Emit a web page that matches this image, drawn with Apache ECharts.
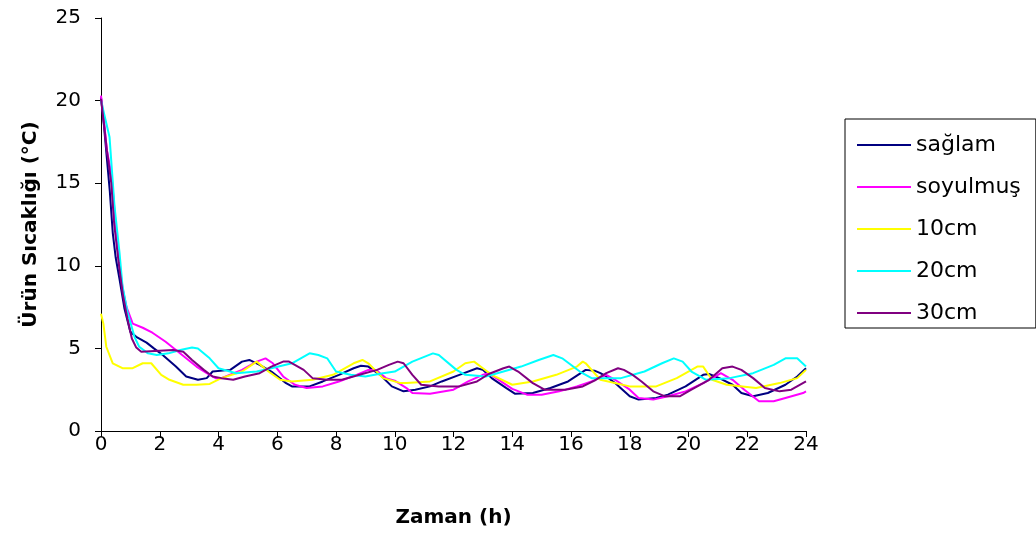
<!DOCTYPE html>
<html><head><meta charset="utf-8">
<script src="https://cdn.jsdelivr.net/npm/echarts@6/dist/echarts.min.js"></script>
<style>html,body{margin:0;padding:0;background:#fff}#c{width:1036px;height:536px}</style>
</head><body><div id="c"></div>
<script>
const seriesNames = ['sağlam','soyulmuş','10cm','20cm','30cm'];
const seriesColors = ['#000080','#FF00FF','#FFFF00','#00FFFF','#800080'];
const xTicks = {min:0, max:24, interval:2};
const yTicks = {min:0, max:25, interval:5};

const saglam = [[0,20.2],[0.1,18.5],[0.2,16.5],[0.3,14.5],[0.4,12.0],[0.5,10.5],[0.63,9.2],[0.8,7.4],[1.0,6.0],[1.2,5.7],[1.55,5.35],[1.8,5.0],[2.1,4.6],[2.55,3.9],[2.9,3.3],[3.3,3.1],[3.6,3.2],[3.8,3.6],[4.4,3.7],[4.8,4.2],[5.05,4.3],[5.4,4.0],[5.8,3.6],[6.3,2.9],[6.5,2.7],[7.1,2.7],[7.55,3.0],[8.1,3.4],[8.6,3.8],[8.85,3.95],[9.1,3.9],[9.5,3.4],[9.9,2.7],[10.3,2.4],[10.7,2.5],[11.2,2.7],[11.6,3.0],[12.2,3.4],[12.8,3.8],[13.0,3.7],[13.3,3.2],[13.8,2.6],[14.1,2.25],[14.7,2.3],[15.3,2.6],[15.9,3.0],[16.5,3.7],[16.8,3.65],[17.0,3.5],[17.2,3.3],[17.5,2.9],[18.0,2.1],[18.3,1.9],[18.9,2.0],[19.3,2.2],[19.9,2.7],[20.5,3.4],[20.7,3.45],[21.05,3.2],[21.5,2.8],[21.8,2.3],[22.2,2.1],[22.7,2.3],[23.3,2.8],[23.7,3.3],[24,3.8]];
const soyulmus = [[0,20.3],[0.1,18.8],[0.2,17.0],[0.36,15.5],[0.5,12.5],[0.63,10.0],[0.75,8.5],[0.87,7.5],[1.08,6.5],[1.42,6.25],[1.75,5.95],[2.2,5.4],[2.55,4.9],[2.9,4.4],[3.25,3.9],[3.6,3.5],[3.9,3.2],[4.1,3.2],[4.8,3.7],[5.3,4.2],[5.6,4.4],[5.85,4.1],[6.2,3.3],[6.6,2.8],[7.0,2.6],[7.55,2.7],[8.1,3.0],[8.7,3.4],[9.1,3.7],[9.35,3.7],[9.7,3.2],[10.0,3.05],[10.4,2.6],[10.6,2.3],[11.2,2.25],[12.0,2.5],[12.5,3.0],[13.0,3.4],[13.2,3.5],[13.45,3.2],[14.0,2.55],[14.5,2.2],[15.0,2.2],[15.6,2.4],[16.2,2.7],[16.7,3.0],[17.2,3.4],[17.5,3.1],[18.0,2.5],[18.3,2.0],[18.8,1.9],[19.3,2.1],[19.9,2.4],[20.5,2.9],[21.0,3.4],[21.1,3.5],[21.5,3.1],[21.9,2.5],[22.4,1.8],[22.9,1.8],[23.3,2.0],[23.9,2.3],[24,2.4]];
const cm10 = [[0,7.1],[0.08,6.5],[0.18,5.1],[0.4,4.1],[0.73,3.8],[1.08,3.8],[1.42,4.1],[1.71,4.1],[2.05,3.4],[2.33,3.1],[2.8,2.8],[3.25,2.8],[3.7,2.85],[4.1,3.2],[4.8,3.6],[5.3,4.2],[5.7,3.6],[6.1,3.1],[6.5,3.0],[7.2,3.1],[7.9,3.4],[8.6,4.1],[8.9,4.3],[9.1,4.1],[9.6,3.2],[10.2,2.9],[10.4,2.9],[11.2,3.0],[12.0,3.6],[12.4,4.1],[12.7,4.2],[13.0,3.8],[13.3,3.4],[14.0,2.8],[14.7,3.0],[15.5,3.4],[16.2,3.9],[16.4,4.2],[16.5,4.1],[17.0,3.1],[18.0,2.7],[18.9,2.7],[19.6,3.2],[20.3,3.9],[20.5,3.9],[20.8,3.1],[21.3,2.8],[22.3,2.6],[23.1,2.9],[23.7,3.2],[24,3.7]];
const cm20 = [[0,20.0],[0.05,19.9],[0.29,17.8],[0.46,13.6],[0.63,10.8],[0.73,8.8],[0.9,7.2],[1.14,5.7],[1.3,5.1],[1.6,4.7],[1.9,4.6],[2.3,4.7],[2.7,4.9],[3.1,5.05],[3.3,5.0],[3.7,4.4],[4.0,3.8],[4.6,3.5],[5.3,3.6],[5.8,3.8],[6.5,4.1],[7.1,4.7],[7.4,4.6],[7.7,4.4],[8.0,3.6],[8.5,3.4],[9.0,3.3],[9.6,3.5],[10.0,3.6],[10.6,4.2],[11.3,4.7],[11.5,4.6],[12.1,3.7],[12.4,3.4],[13.1,3.3],[13.7,3.6],[14.3,3.9],[14.9,4.3],[15.4,4.6],[15.7,4.4],[16.3,3.6],[16.7,3.2],[17.7,3.2],[18.5,3.6],[19.1,4.1],[19.5,4.4],[19.8,4.2],[20.1,3.6],[20.6,3.1],[21.4,3.2],[22.2,3.5],[22.9,4.0],[23.3,4.4],[23.7,4.4],[24,3.9]];
const cm30 = [[0,20.1],[0.1,18.6],[0.2,17.0],[0.35,15.0],[0.45,12.5],[0.6,10.2],[0.75,8.2],[0.9,6.8],[1.05,5.6],[1.2,5.05],[1.37,4.8],[2.45,4.9],[2.8,4.8],[3.1,4.3],[3.5,3.7],[3.8,3.3],[4.1,3.2],[4.5,3.1],[4.9,3.3],[5.4,3.5],[5.8,3.9],[6.2,4.2],[6.4,4.2],[6.9,3.7],[7.2,3.2],[7.7,3.1],[8.2,3.1],[8.8,3.4],[9.4,3.7],[9.8,4.0],[10.1,4.2],[10.3,4.1],[10.6,3.4],[10.9,2.8],[11.5,2.7],[12.2,2.7],[12.8,3.0],[13.2,3.45],[13.7,3.8],[13.9,3.9],[14.2,3.6],[14.7,2.9],[15.1,2.5],[15.8,2.5],[16.4,2.7],[16.8,3.05],[17.2,3.5],[17.6,3.8],[17.8,3.7],[18.1,3.4],[18.4,3.0],[18.8,2.4],[19.2,2.1],[19.7,2.1],[20.1,2.5],[20.7,3.1],[21.15,3.8],[21.5,3.9],[21.8,3.7],[22.2,3.2],[22.6,2.6],[23.1,2.4],[23.5,2.5],[24,3.0]];
const seriesData = [saglam, soyulmus, cm10, cm20, cm30];

const FONT = 'DejaVu Sans';
const chart = echarts.init(document.getElementById('c'), null, {renderer:'canvas'});
chart.setOption({
  animation:false,
  backgroundColor:'#fff',
  grid:{left:101, right:230, top:18, bottom:105, containLabel:false},
  xAxis:{type:'value', min:xTicks.min, max:xTicks.max, interval:xTicks.interval,
    name:'Zaman (h)', nameLocation:'middle', nameGap:77,
    nameTextStyle:{fontFamily:FONT, fontWeight:'bold', fontSize:20, color:'#000'},
    axisLine:{show:true, onZero:false, lineStyle:{color:'#000', width:1}},
    axisTick:{show:true, length:6, lineStyle:{color:'#000'}},
    axisLabel:{fontFamily:FONT, fontSize:20, color:'#000', margin:4},
    splitLine:{show:false}},
  yAxis:{type:'value', min:yTicks.min, max:yTicks.max, interval:yTicks.interval,
    name:'Ürün Sıcaklığı (°C)', nameLocation:'middle', nameGap:60, nameRotate:90,
    nameTextStyle:{fontFamily:FONT, fontWeight:'bold', fontSize:20, color:'#000'},
    axisLine:{show:true, lineStyle:{color:'#000', width:1}},
    axisTick:{show:true, length:6, lineStyle:{color:'#000'}},
    axisLabel:{fontFamily:FONT, fontSize:20, color:'#000', margin:20},
    splitLine:{show:false}},
  legend:{orient:'vertical', left:845, top:119, icon:'rect', itemWidth:54, itemHeight:2, itemGap:20,
    padding:[15,15,4,12], borderColor:'#000', borderWidth:1, backgroundColor:'#fff',
    textStyle:{fontFamily:FONT, fontSize:22, color:'#000', lineHeight:20},
    data:seriesNames},
  series: seriesNames.map((n,i)=>({name:n, type:'line', data:seriesData[i], symbol:'none', smooth:false,
    color:seriesColors[i], lineStyle:{color:seriesColors[i], width:2}, z:2+i}))
});
</script></body></html>
